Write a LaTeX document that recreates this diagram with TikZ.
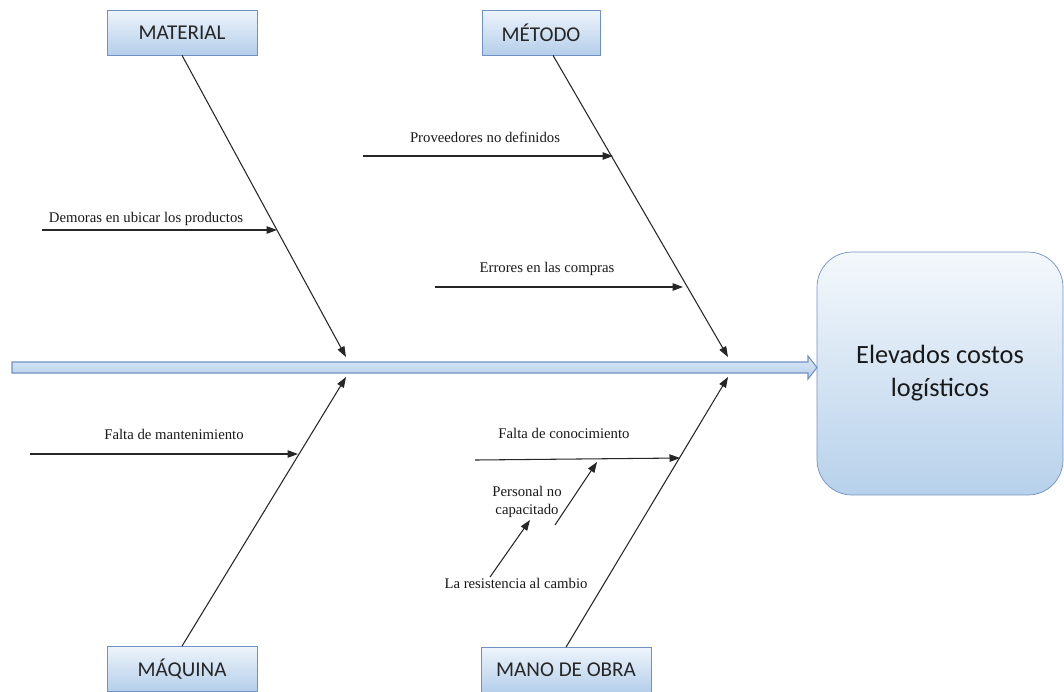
\documentclass[tikz,border=0pt]{standalone}
\usepackage{fontspec}
\newfontfamily\boxfont{Carlito}
\newfontfamily\lblfont{Liberation Serif}
\usetikzlibrary{arrows.meta,positioning}
\definecolor{boxline}{HTML}{7191C2}
\definecolor{boxtop}{HTML}{EEF4FB}
\definecolor{boxbot}{HTML}{B4CEEA}
\definecolor{efftop}{HTML}{F4F8FC}
\definecolor{effbot}{HTML}{B7D1EB}

\begin{document}
\begin{tikzpicture}[x=0.02cm, y=-0.02cm,
    cause/.style={rectangle, draw=boxline, top color=boxtop, bottom color=boxbot, minimum width=3cm, minimum height=0.9cm, inner sep=0pt, text=black!85, font=\boxfont\fontsize{12}{14}\selectfont},
    effect/.style={rectangle, rounded corners=0.7cm, draw=boxline, top color=efftop, bottom color=effbot, minimum width=4.92cm, minimum height=4.86cm, align=center, text=black!90, font=\boxfont\fontsize{15}{18.7}\selectfont},
    spine/.style={draw=boxline, line width=0.6pt, top color=boxtop!70!boxbot, bottom color=boxbot},
    lbl/.style={inner sep=0pt, align=center, text=black!90, font=\lblfont\fontsize{8.4}{10.2}\selectfont},
    bone/.style={-{Triangle[length=0.21cm, width=0.15cm]}, black!85, line width=0.6pt}]

    \useasboundingbox (0,0) rectangle (1064,691);

    \node[effect] (efecto) at (940,373.5) {Elevados costos\\logísticos};
    \path[spine] (12,362) -- (808,362) -- (808,356) -- (817,367.5) -- (808,379) -- (808,373) -- (12,373) -- cycle;

    \node[cause] (material) at (182,32.5) {MATERIAL};
    \node[cause, minimum width=2.36cm] (metodo) at (541,32.5) {MÉTODO};
    \node[cause] (maquina) at (182,669) {MÁQUINA};
    \node[cause, minimum width=3.4cm] (mano) at (566,670) {MANO DE OBRA};

    \coordinate (matTip) at (346,357);
    \coordinate (metTip) at (728,357);
    \coordinate (maqTip) at (346,377);
    \coordinate (manTip) at (728,377);
    \draw[bone] (material.south) -- (matTip);
    \draw[bone] ([xshift=0.24cm]metodo.south) -- (metTip);
    \draw[bone] (maquina.north) -- (maqTip);
    \draw[bone] (mano.north) -- (manTip);

    \node[lbl, anchor=base] (demoras) at (146,222) {Demoras en ubicar los productos};
    \node[lbl, anchor=base] (proveedores) at (485,142) {Proveedores no definidos};
    \node[lbl, anchor=base] (errores) at (547,272) {Errores en las compras};
    \node[lbl, anchor=base] (mantenimiento) at (174,439) {Falta de mantenimiento};
    \node[lbl, anchor=base] (conocimiento) at (564,438) {Falta de conocimiento};
    \node[lbl] (personal) at (527,502) {Personal no\\capacitado};
    \node[lbl, anchor=base] (resistencia) at (516,588) {La resistencia al cambio};

    \coordinate (demStart) at (42,230);
    \coordinate (demTip) at (277,230);
    \coordinate (proStart) at (363,156);
    \coordinate (proTip) at (613,156);
    \coordinate (errStart) at (435,287);
    \coordinate (errTip) at (683,287);
    \coordinate (manStart) at (30,454);
    \coordinate (manEnd) at (298,454);
    \coordinate (conStart) at (475,460);
    \coordinate (conTip) at (680,458);
    \coordinate (perStart) at (555,525);
    \coordinate (perTip) at (597,462);
    \coordinate (resStart) at (490,577);
    \coordinate (resTip) at (530,520);

    \draw[bone] (demStart) -- (demTip);
    \draw[bone] (proStart) -- (proTip);
    \draw[bone] (errStart) -- (errTip);
    \draw[bone] (manStart) -- (manEnd);
    \draw[bone] (conStart) -- (conTip);
    \draw[bone] (perStart) -- (perTip);
    \draw[bone] (resStart) -- (resTip);
\end{tikzpicture}
\end{document}
